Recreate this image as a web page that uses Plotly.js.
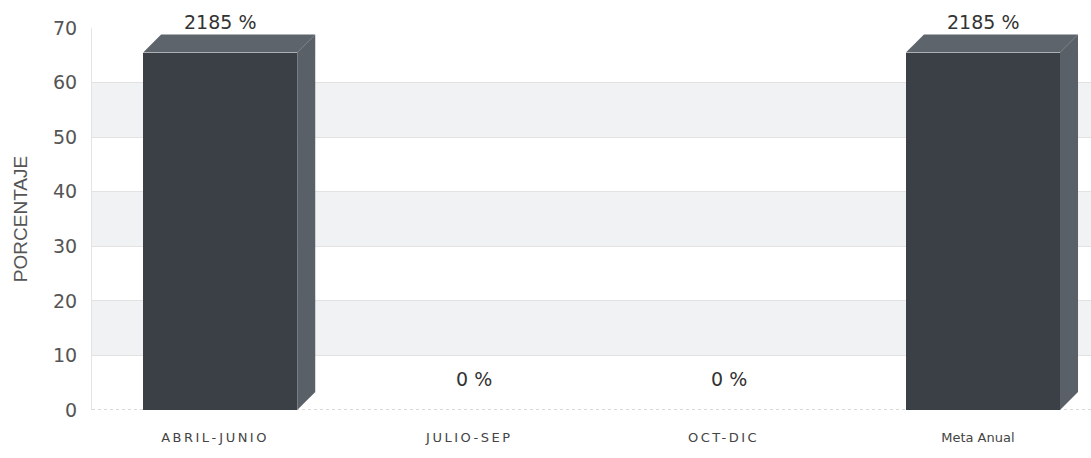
<!DOCTYPE html>
<html>
<head>
<meta charset="utf-8">
<script src="https://cdn.plot.ly/plotly-3.0.1.min.js"></script>
<style>
html, body { margin: 0; padding: 0; background: #ffffff; }
#chart { width: 1091px; height: 458px; }
</style>
</head>
<body>
<div id="chart"></div>
<script>
// ---- data ----
const categories = ["ABRIL-JUNIO", "JULIO-SEP", "OCT-DIC", "Meta Anual"];
const values = [65.5, 0, 0, 65.5];
const valueLabels = ["2185 %", "0 %", "0 %", "2185 %"];
const yTickValues = [0, 10, 20, 30, 40, 50, 60, 70];

// ---- style ----
const barWidth = 0.606;
const barOffset = -0.283;
const depthX = 0.071;   // 3D depth in x units
const depthY = 3.3;     // 3D depth in y units
const frontColor = "#3b3f46";
const sideColor = "#5a6067";
const topColor = "#5e646b";

const idx = categories.map((c, i) => i);

const bar = {
  type: "bar",
  x: idx,
  y: values,
  width: categories.map(() => barWidth),
  offset: categories.map(() => barOffset),
  marker: { color: frontColor, line: { width: 0 } },
  hoverinfo: "skip",
  showlegend: false
};

const shapes = [];
// alternating bands
for (let k = 0; k < yTickValues.length - 1; k++) {
  if (k % 2 === 1) {
    shapes.push({
      type: "rect", xref: "paper", yref: "y", layer: "below",
      x0: 0, x1: 1, y0: yTickValues[k], y1: yTickValues[k + 1],
      fillcolor: "#f1f2f4", line: { width: 0 }
    });
  }
}
// baseline (dotted)
shapes.push({
  type: "line", xref: "paper", yref: "y", layer: "below",
  x0: 0, x1: 1, y0: 0, y1: 0,
  line: { color: "#b5b5b5", width: 1, dash: "dot" }
});
// 3D faces
idx.forEach(i => {
  const v = values[i];
  if (v <= 0) return;
  const x0 = i + barOffset, x1 = x0 + barWidth;
  shapes.push({
    type: "path", xref: "x", yref: "y", layer: "above",
    path: `M ${x0},${v} L ${x1},${v} L ${x1 + depthX},${v + depthY} L ${x0 + depthX},${v + depthY} Z`,
    fillcolor: topColor, line: { width: 0 }
  });
  shapes.push({
    type: "path", xref: "x", yref: "y", layer: "above",
    path: `M ${x1},0 L ${x1 + depthX},${depthY} L ${x1 + depthX},${v + depthY} L ${x1},${v} Z`,
    fillcolor: sideColor, line: { width: 0 }
  });
});

const annotations = idx.map(i => ({
  x: i + barOffset + barWidth / 2,
  y: values[i] + depthY,
  xref: "x", yref: "y",
  text: valueLabels[i],
  showarrow: false,
  yanchor: "bottom",
  yshift: 0,
  font: { family: "DejaVu Sans, Verdana, sans-serif", size: 19, color: "#333333" }
}));

const layout = {
  width: 1091, height: 458,
  margin: { l: 92, r: 0, t: 28, b: 48 },
  paper_bgcolor: "#ffffff",
  plot_bgcolor: "#ffffff",
  showlegend: false,
  bargap: 0,
  xaxis: {
    range: [-0.484, 3.445],
    tickvals: idx,
    ticktext: categories,
    showgrid: false,
    zeroline: false,
    showline: false,
    ticks: "",
    ticklabelstandoff: 18,
    tickfont: { family: "DejaVu Sans, Verdana, sans-serif", size: 13, color: "#444444" },
    fixedrange: true
  },
  yaxis: {
    range: [0, 70],
    tickvals: yTickValues,
    showgrid: true,
    gridcolor: "#e2e2e2",
    gridwidth: 1,
    zeroline: false,
    showline: true,
    linecolor: "#e4e4e4",
    ticks: "",
    ticklabelstandoff: 10,
    tickfont: { family: "DejaVu Sans, Verdana, sans-serif", size: 19, color: "#555555" },
    title: {
      text: "PORCENTAJE",
      standoff: 20,
      font: { family: "Liberation Sans, Arial, sans-serif", size: 19, color: "#555555" }
    },
    fixedrange: true
  },
  shapes: shapes,
  annotations: annotations
};

Plotly.newPlot("chart", [bar], layout, { displayModeBar: false, staticPlot: true }).then(gd => {
  gd.querySelectorAll(".xtick text").forEach(t => {
    if (t.textContent === t.textContent.toUpperCase()) {
      t.style.letterSpacing = "2.5px";
    }
  });
});
</script>
</body>
</html>
